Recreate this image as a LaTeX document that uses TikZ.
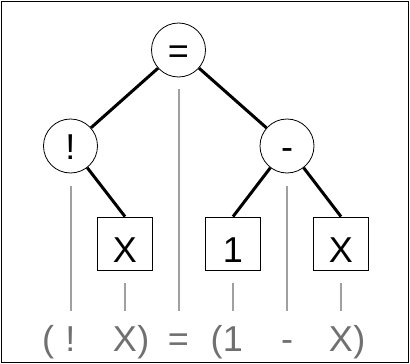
\documentclass[tikz,border=0pt]{standalone}
\usepackage{fontspec}
\setmainfont{Liberation Sans}
\usepackage{xcolor}
\usepackage{tikz}
\usetikzlibrary{positioning}
\definecolor{guidegray}{HTML}{A0A0A0}
\definecolor{tokgray}{HTML}{707070}
\newcommand{\bigtext}{\fontsize{36}{40}\selectfont}

\begin{document}
\begin{tikzpicture}[
    x=1pt, y=-1pt,
    op/.style={circle, draw, line width=0.8pt, minimum size=54pt, inner sep=0pt, text height=26pt, text depth=0pt, font=\bigtext},
    leaf/.style={rectangle, draw, line width=0.8pt, minimum width=55pt, minimum height=53pt, inner sep=0pt, text height=37pt, text depth=0pt, font=\bigtext},
    tok/.style={inner sep=0pt, text height=26pt, text depth=0pt, anchor=base, text=tokgray, font=\bigtext},
    edge/.style={line width=3pt},
    guide/.style={guidegray, line width=2pt, shorten <=13pt, shorten >=14pt}
  ]
    \useasboundingbox (0,0) rectangle (410,364);
    \draw[line width=1pt] (1.5,1.5) rectangle (408.5,362.5);

    % Tree
    \node (eq) [op] at (178.5,50) {=};
    \node (not) [op] at (70.5,146) {!};
    \node (minus) [op] at (287,146) {-};
    \node (x1) [leaf] at (125,243.5) {X};
    \node (one) [leaf] at (233,243.5) {1};
    \node (x2) [leaf] at (341,243.5) {X};

    % Source text
    \node (tnot) [tok] at (70.5,351) {!};
    \node (topen1) [tok] at (48,351) {(};
    \node (tx1) [tok] at (125,351) {X};
    \node (tclose1) [tok, anchor=base west] at (tx1.base east) {)};
    \node (teq) [tok] at (178.5,351) {=};
    \node (tone) [tok] at (233,351) {1};
    \node (topen2) [tok, anchor=base east] at (tone.base west) {(};
    \node (tminus) [tok] at (287,351) {-};
    \node (tx2) [tok] at (341,351) {X};
    \node (tclose2) [tok, anchor=base west] at (tx2.base east) {)};

    % Connections
    \draw [edge] (eq) -- (not);
    \draw [edge] (eq) -- (minus);
    \draw [edge] (not) -- (x1.north);
    \draw [edge] (minus) -- (one.north);
    \draw [edge] (minus) -- (x2.north);

    % Guides
    \draw [guide, shorten <=12pt] (eq) -- (teq);
    \draw [guide] (not) -- (tnot);
    \draw [guide] (x1) -- (tx1);
    \draw [guide] (one) -- (tone);
    \draw [guide] (minus) -- (tminus);
    \draw [guide] (x2) -- (tx2);
\end{tikzpicture}
\end{document}
